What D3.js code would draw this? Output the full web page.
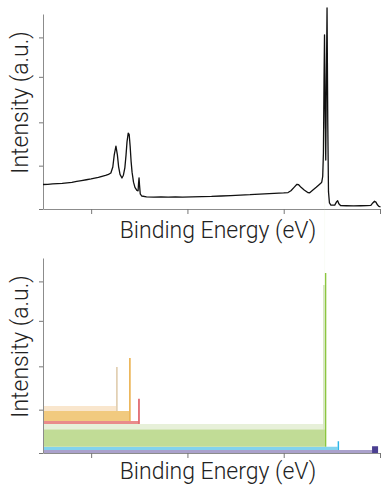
<!DOCTYPE html>
<html>
<head>
<meta charset="utf-8">
<script src="https://cdn.jsdelivr.net/npm/d3@7"></script>
<style>
  body { margin: 0; background: #fff; }
  text { font-family: "Helvetica Neue", Roboto, "Liberation Sans", sans-serif; font-weight: 300; fill: #222; }
</style>
</head>
<body>
<div id="chart"></div>
<script>
// survey spectrum (top panel)
const energy = [0, 20, 40, 60, 80, 100, 120, 140, 160, 180, 200, 215, 230, 245, 260, 272, 282, 290, 296, 303, 309, 314, 320, 328, 334, 340, 345, 349, 354, 358, 362, 366, 370, 376, 382, 390, 395, 397, 399, 401, 404, 410, 430, 460, 490, 520, 550, 580, 620, 660, 700, 740, 780, 820, 860, 900, 940, 980, 1000, 1018, 1030, 1043, 1055, 1062, 1072, 1085, 1100, 1108, 1120, 1135, 1147, 1155, 1158, 1162, 1165, 1167.5, 1169.5, 1172, 1174.6, 1177, 1180, 1183, 1186, 1190, 1196, 1205, 1212, 1220, 1224, 1229, 1236, 1260, 1290, 1320, 1345, 1362, 1370, 1377, 1383, 1390, 1396, 1402];
const counts = [0.565, 0.57, 0.58, 0.585, 0.59, 0.605, 0.615, 0.635, 0.655, 0.675, 0.695, 0.715, 0.73, 0.755, 0.775, 0.80, 0.83, 0.97, 1.25, 1.45, 1.25, 0.98, 0.80, 0.715, 0.78, 0.95, 1.25, 1.55, 1.75, 1.72, 1.45, 1.10, 0.85, 0.62, 0.50, 0.43, 0.42, 0.60, 0.72, 0.55, 0.35, 0.30, 0.28, 0.275, 0.28, 0.272, 0.278, 0.275, 0.28, 0.285, 0.29, 0.30, 0.31, 0.32, 0.33, 0.345, 0.355, 0.365, 0.37, 0.38, 0.42, 0.50, 0.57, 0.56, 0.50, 0.44, 0.38, 0.375, 0.43, 0.50, 0.56, 0.60, 0.62, 0.75, 1.3, 3.0, 4.02, 2.3, 1.13, 2.8, 4.64, 2.0, 0.4, 0.14, 0.09, 0.09, 0.09, 0.17, 0.19, 0.12, 0.08, 0.075, 0.07, 0.075, 0.08, 0.085, 0.14, 0.18, 0.16, 0.09, 0.06, 0.05];

// component layers (bottom panel), listed from the bottom of the stack up
const layerNames = ["p1", "p2", "p3", "p4", "p5", "p6", "p7"];
const plateau = [0.07, 0.076, 0.40, 0.122, 0.07, 0.23, 0.115];
const edge = [1392, 1230, 1177, 1171.6, 401.7, 364, 310];
const peakWidth = [25, 6, 6, 8, 6, 6, 6];
const peak = [0.155, 0.20, 4.01, 3.33, 0.584, 1.454, 1.015];
const bandColor = ["#aaa1cb", "#82d3ee", "#c1dc96", "#e7f0d9", "#e98b8b", "#f1ca7f", "#f9e6cd"];
const peakColor = ["#4b3f91", "#2cb6e8", "#8cc63f", "#d3e5bd", "#d9474f", "#e8a93a", "#dcc7a5"];

const xTicks = [200, 600, 1000, 1400];
const yTicks = [0, 1, 2, 3.05, 3.96];

const width = 384;
const height = 486;
const left = 43, right = 380;

const svg = d3.select("#chart")
  .append("svg")
  .attr("width", width)
  .attr("height", height);

const x = d3.scaleLinear().domain([0, 1400]).range([left, right]);

function drawAxes(g, y, bottom) {
  g.append("g")
    .attr("transform", "translate(0," + bottom + ")")
    .call(d3.axisBottom(x).tickValues(xTicks).tickSize(5).tickSizeOuter(0).tickFormat(""))
    .call(a => a.select(".domain").attr("stroke", "#8c8c8c"))
    .call(a => a.selectAll(".tick line").attr("stroke", "#777"));

  g.append("g")
    .attr("transform", "translate(" + left + ",0)")
    .call(d3.axisLeft(y).tickValues(yTicks).tickSize(4).tickSizeOuter(0).tickFormat(""))
    .call(a => a.select(".domain").attr("stroke", "#8c8c8c"))
    .call(a => a.selectAll(".tick line").attr("stroke", "#777"));
}

function drawLabels(g, top, bottom, labelGap) {
  g.append("text")
    .attr("transform", "translate(28," + ((top + bottom) / 2 - 9) + ")rotate(-90)")
    .attr("text-anchor", "middle")
    .style("font-size", "23px")
    .text("Intensity (a.u.)");

  g.append("text")
    .attr("x", 218)
    .attr("y", bottom + labelGap)
    .attr("text-anchor", "middle")
    .style("font-size", "23px")
    .text("Binding Energy (eV)");
}

// Top panel: measured spectrum
function drawTop() {
  const g = svg.append("g");
  const y = d3.scaleLinear().domain([0, 4.5]).range([209, 14]);
  drawAxes(g, y, 209);

  const line = d3.line()
    .x((d, i) => x(energy[i]))
    .y(d => y(d));

  g.append("path")
    .datum(counts)
    .attr("fill", "none")
    .attr("stroke", "#111")
    .attr("stroke-width", 1.3)
    .attr("stroke-linejoin", "round")
    .attr("d", line);

  drawLabels(g, 14, 209, 29);
}

// Bottom panel: stacked components
function drawBottom() {
  const g = svg.append("g");
  const y = d3.scaleLinear().domain([0, 4.5]).range([453, 258]);

  // sample energies where any layer changes
  let samples = [0, 1400];
  edge.forEach((e, i) => { samples.push(e - peakWidth[i], e); });
  samples = Array.from(new Set(samples)).sort((a, b) => a - b);

  const keys = [];
  layerNames.forEach(n => { keys.push(n + "_bg", n + "_pk"); });

  const rows = samples.map(E => {
    const row = { E: E };
    layerNames.forEach((n, i) => {
      const start = edge[i] - peakWidth[i];
      row[n + "_bg"] = E < start ? plateau[i] : 0;
      row[n + "_pk"] = (E >= start && E < edge[i]) ? peak[i] : 0;
    });
    return row;
  });

  const series = d3.stack().keys(keys)(rows);

  const area = d3.area()
    .curve(d3.curveStepAfter)
    .x(d => x(d.data.E))
    .y0(d => y(d[0]))
    .y1(d => y(d[1]));

  g.selectAll("path.layer")
    .data(series)
    .enter()
    .append("path")
    .attr("class", "layer")
    .attr("fill", (d, i) => (i % 2 === 0 ? bandColor : peakColor)[Math.floor(i / 2)])
    .attr("d", area);

  drawAxes(g, y, 453);
  drawLabels(g, 258, 453, 26);
}

drawTop();
drawBottom();
</script>
</body>
</html>
